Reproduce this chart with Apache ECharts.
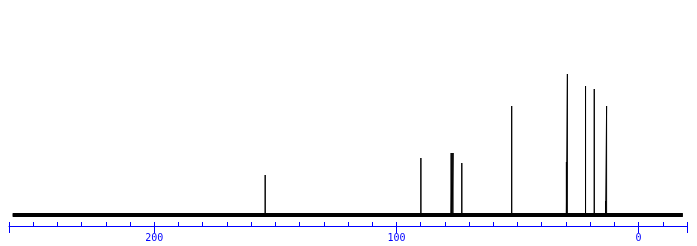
<!DOCTYPE html>
<html>
<head>
<meta charset="utf-8">
<script src="https://cdn.jsdelivr.net/npm/echarts@6/dist/echarts.min.js"></script>
<style>html,body{margin:0;padding:0;background:#fff}#c{width:697px;height:246px}</style>
</head>
<body>
<div id="c"></div>
<script>
// Spectrum extent (ppm)
var spectrumRange = [258.5, -18.3];
// Peak positions (ppm) and intensities (arbitrary units)
var peakPpm    = [154.2, 89.9, 77.4, 77.0, 76.6, 73.0, 52.4, 29.8, 29.4, 21.9, 18.3, 13.6, 13.2];
var peakHeight = [40,    57,   62,   62,   62,   52,   109,  53,   141,  129,  126,  14,   109];
// Axis tick labels
var labelValues = [200, 100, 0];
var longTickValues = [260, 200, 100, 0, -20];

var pts = [[spectrumRange[0], 0]];
var order = peakPpm.map(function(p, i){ return i; }).sort(function(a, b){ return peakPpm[b] - peakPpm[a]; });
order.forEach(function(i){
  pts.push([peakPpm[i], 0]);
  pts.push([peakPpm[i], peakHeight[i]]);
  pts.push([peakPpm[i], 0]);
});
pts.push([spectrumRange[1], 0]);

var chart = echarts.init(document.getElementById('c'), null, {renderer: 'canvas'});
var axisColor = '#0000ff';
chart.setOption({
  animation: false,
  backgroundColor: '#ffffff',
  grid: {left: 9, right: 10, top: 25, bottom: 26},
  xAxis: [{
    type: 'value', min: -20, max: 260, interval: 10, inverse: true,
    position: 'bottom', offset: 6,
    axisLine: {show: true, onZero: false, lineStyle: {color: axisColor, width: 1}},
    axisTick: {show: true, inside: true, length: 4, lineStyle: {color: axisColor}},
    axisLabel: {show: false},
    splitLine: {show: false}
  }, {
    type: 'value', min: -20, max: 260, inverse: true,
    position: 'bottom', offset: 6,
    axisLine: {show: false, onZero: false},
    axisTick: {show: true, inside: false, length: 7, customValues: longTickValues, lineStyle: {color: axisColor}},
    axisLabel: {show: true, customValues: labelValues, margin: 7, color: axisColor,
      fontFamily: 'DejaVu Sans Mono', fontSize: 10},
    splitLine: {show: false}
  }],
  yAxis: {type: 'value', min: -5, max: 190, show: false},
  series: [{
    type: 'line', xAxisIndex: 0, data: [[spectrumRange[0], 0], [spectrumRange[1], 0]],
    symbol: 'none', lineStyle: {color: '#000', width: 4}, silent: true
  }, {
    type: 'line', xAxisIndex: 0, data: pts,
    symbol: 'none', lineStyle: {color: '#000', width: 1}, silent: true
  }]
});
</script>
</body>
</html>
